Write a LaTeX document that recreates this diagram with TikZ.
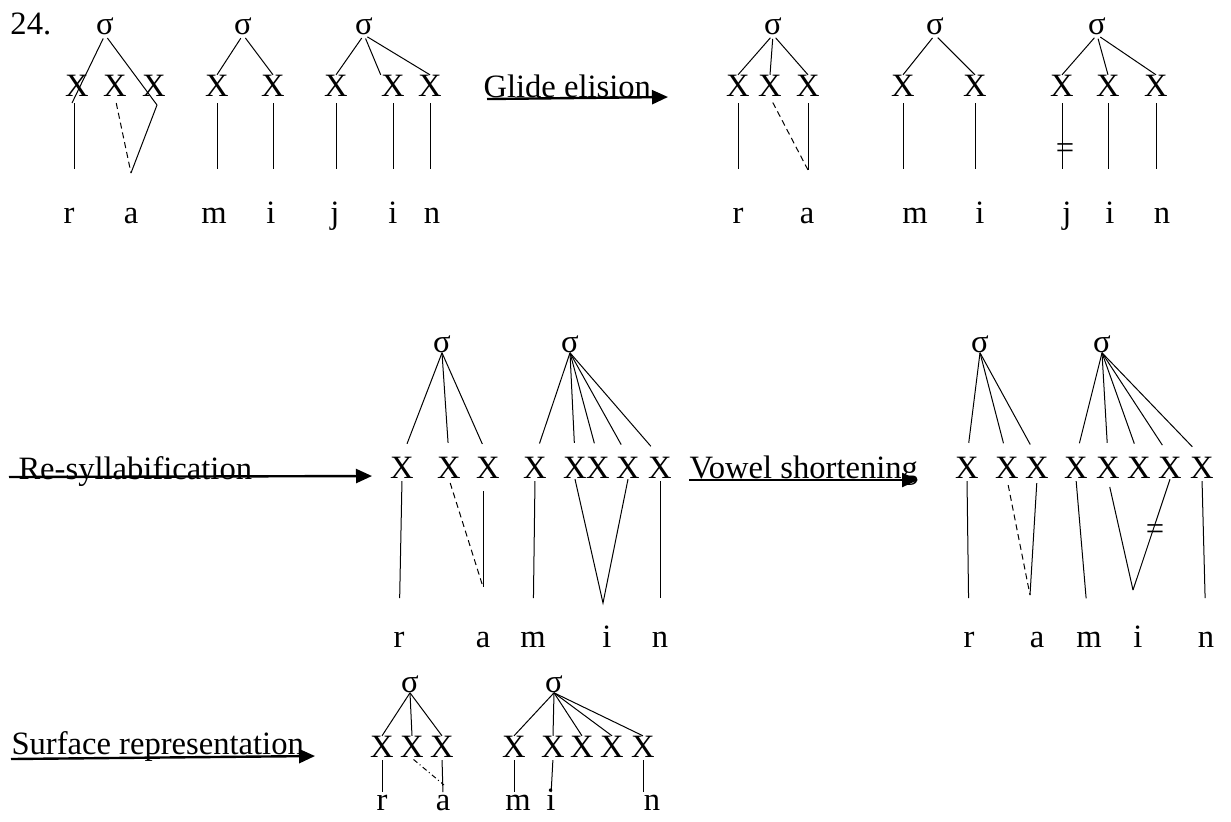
\documentclass[tikz,border=0pt]{standalone}
\usepackage{fontspec}
\setmainfont{Liberation Serif}
\usetikzlibrary{arrows.meta}

\begin{document}
\begin{tikzpicture}
    [x=0.5pt,y=-0.5pt,line width=0.5pt,font=\fontsize{16.3}{19}\selectfont,
     every node/.style={inner sep=0pt},
     seg/.style={text height=7.3pt,text depth=0pt},
     up1/.style={shorten <=2pt},
     up2/.style={shorten >=7pt},
     down1/.style={shorten <=3pt,shorten >=19.5pt},
     down2/.style={shorten <=1pt,shorten >=17pt},
     down3/.style={shorten <=1pt,shorten >=1.5pt},
     gap/.style={dash pattern=on 3pt off 2pt},
     gapdot/.style={dash pattern=on 2.5pt off 1.5pt on 0.5pt off 1.5pt},
     rule/.style={line width=1.2pt,-{Triangle[length=8pt,width=7pt]}}]
    \useasboundingbox (0,0) rectangle (1231,821);

    \node[anchor=base west] (num) at (10,34) {24.};

    % underlying form
    \node[seg] (s1) at (105,27) {σ};
    \node[seg] (s2) at (243,27) {σ};
    \node[seg] (s3) at (364,27) {σ};
    \node (x11) at (77,86) {X};
    \node (x12) at (115,86) {X};
    \node (x13) at (154,86) {X};
    \node (x21) at (217,86) {X};
    \node (x22) at (273,86) {X};
    \node (x31) at (336,86) {X};
    \node (x32) at (393,86) {X};
    \node (x33) at (430,86) {X};
    \node[seg] (r1) at (69,216) {r};
    \node[seg] (a1) at (131,216) {a};
    \node[seg] (m1) at (214,216) {m};
    \node[seg] (i1) at (271,216) {i};
    \node[seg] (j1) at (335,216) {j};
    \node[seg] (i2) at (393,216) {i};
    \node[seg] (n1) at (432,216) {n};
    \coordinate (k11) at (72,103);
    \coordinate (k12) at (157,105);
    \coordinate (k13) at (131,173);

    \path (s1.south) edge[up1] (k11) edge[up1] (k12);
    \draw (k12) -- (k13);
    \draw[gap,shorten <=3pt] (x12.south) -- (k13);
    \path ([xshift=-1.5pt]x11.south) edge[down1] ([xshift=-1.5pt]x11.south |- r1.north);
    \path (s2.south) edge[up1] (x21.north) edge[up1] (x22.north);
    \path (x21.south) edge[down1] (x21.south |- m1.north);
    \path (x22.south) edge[down1] (x22.south |- i1.north);
    \path (s3.south) edge[up1] (x31.north) edge[up1] (x32.north west) edge[up1] (x33.north);
    \path (x31.south) edge[down1] (x31.south |- j1.north);
    \path (x32.south) edge[down1] (x32.south |- i2.north);
    \path (x33.south) edge[down1] (x33.south |- n1.north);

    \node[anchor=base west] (glide) at (483,97) {Glide elision};
    \coordinate (glideend) at (668,97);
    \draw[rule] ([shift={(2pt,-1pt)}]glide.base west) -- (glideend);

    % after glide elision
    \node[seg] (s4) at (773,27) {σ};
    \node[seg] (s5) at (935,27) {σ};
    \node[seg] (s6) at (1097,27) {σ};
    \node (x41) at (738,86) {X};
    \node (x42) at (770,86) {X};
    \node (x43) at (808,86) {X};
    \node (x51) at (903,86) {X};
    \node (x52) at (975,86) {X};
    \node (x61) at (1062,86) {X};
    \node (x62) at (1108,86) {X};
    \node (x63) at (1156,86) {X};
    \node[seg] (r2) at (738,216) {r};
    \node[seg] (a2) at (807,216) {a};
    \node[seg] (m2) at (915,216) {m};
    \node[seg] (i3) at (980,216) {i};
    \node[seg] (j2) at (1067,216) {j};
    \node[seg] (i4) at (1110,216) {i};
    \node[seg] (n2) at (1162,216) {n};
    \node (eq1) at (1065,151) {=};
    \coordinate (k41) at (808,170);

    \path (s4.south) edge[up1] (x41.north) edge[up1] (x42.north) edge[up1] (x43.north);
    \path (x41.south) edge[down1] (x41.south |- r2.north);
    \draw[shorten <=3pt] (x43.south) -- (k41);
    \draw[gap,shorten <=3pt] (x42.south) -- (k41);
    \path (s5.south) edge[up1] (x51.north) edge[up1] (x52.north);
    \path (x51.south) edge[down1] (x51.south |- m2.north);
    \path (x52.south) edge[down1] (x52.south |- i3.north);
    \path (s6.south) edge[up1] (x61.north) edge[up1] (x62.north) edge[up1] (x63.north);
    \path (x61.south) edge[down1] (x61.south |- j2.north);
    \path (x62.south) edge[down1] (x62.south |- i4.north);
    \path (x63.south) edge[down1] (x63.south |- n2.north);

    % re-syllabification
    \node[anchor=base west] (resyl) at (18,479) {Re-syllabification};
    \coordinate (resylend) at (372,476);
    \draw[rule] ([shift={(-4.5pt,1pt)}]resyl.base west) -- (resylend);

    \node[seg] (sa) at (442,345) {σ};
    \node[seg] (sb) at (570,345) {σ};
    \node (xa1) at (402,468) {X};
    \node (xa2) at (449,468) {X};
    \node (xa3) at (488,468) {X};
    \node (xa4) at (535,468) {X};
    \node (xa5) at (575,468) {X};
    \node (xa6) at (598,468) {X};
    \node (xa7) at (628,468) {X};
    \node (xa8) at (660,468) {X};
    \node[seg] (ra) at (399,640) {r};
    \node[seg] (aa) at (483,640) {a};
    \node[seg] (ma) at (533,640) {m};
    \node[seg] (ia) at (607,640) {i};
    \node[seg] (na) at (660,640) {n};
    \coordinate (ka) at (483,587);
    \coordinate (ki) at (603,603);

    \path (sa.south) edge[up2] (xa1.north) edge[up2] (xa2.north) edge[up2] (xa3.north);
    \path (sb.south) edge[up2] (xa4.north) edge[up2] (xa5.north) edge[up2] (xa6.north)
                     edge[up2] (xa7.north) edge[up2] (xa8.north);
    \path (xa1.south) edge[down2] (ra.north);
    \draw[gap,shorten <=2pt] (xa2.south) -- (ka);
    \draw[shorten <=6pt] ([xshift=-2.5pt]xa3.south) -- (ka);
    \path (xa4.south) edge[down2] (ma.north);
    \draw (xa5.south) -- (ki) -- (xa7.south);
    \path (xa8.south) edge[down2] (na.north);

    % vowel shortening
    \node[anchor=base west] (vowel) at (689,478) {Vowel shortening};
    \coordinate (vowelend) at (918,480);
    \draw[rule] ([yshift=-1pt]vowel.base west) -- (vowelend);

    \node[seg] (sc) at (980,345) {σ};
    \node[seg] (sd) at (1102,345) {σ};
    \node (xb1) at (967,468) {X};
    \node (xb2) at (1007,468) {X};
    \node (xb3) at (1037,468) {X};
    \node (xb4) at (1076,468) {X};
    \node (xb5) at (1108,468) {X};
    \node (xb6) at (1139,468) {X};
    \node (xb7) at (1170,468) {X};
    \node (xb8) at (1202,468) {X};
    \node[seg] (rb) at (969,640) {r};
    \node[seg] (ab) at (1037,640) {a};
    \node[seg] (mb) at (1089,640) {m};
    \node[seg] (ib) at (1138,640) {i};
    \node[seg] (nb) at (1206,640) {n};
    \node (eq2) at (1155,532) {=};
    \coordinate (kb) at (1030,595);
    \coordinate (kc) at (1133,590);

    \path (sc.south) edge[up2] (xb1.north) edge[up2] (xb2.north) edge[up2] (xb3.north);
    \path (sd.south) edge[up2] (xb4.north) edge[up2] (xb5.north) edge[up2] (xb6.north)
                     edge[up2] (xb7.north) edge[up2] (xb8.north);
    \path (xb1.south) edge[down2] (rb.north);
    \draw[gap,shorten <=3pt] (xb2.south) -- (kb);
    \draw[shorten <=2pt] (xb3.south) -- (kb);
    \path (xb4.south) edge[down2] (mb.north);
    \draw[shorten <=4pt] (xb5.south) -- (kc);
    \draw (kc) -- (xb7.south);
    \path (xb8.south) edge[down2] (nb.north);

    % surface form
    \node[anchor=base west] (surf) at (11,754) {Surface representation};
    \coordinate (surfend) at (315,756);
    \draw[rule] ([yshift=-2.5pt]surf.base west) -- (surfend);

    \node[seg] (se) at (410,685) {σ};
    \node[seg] (sf) at (554,685) {σ};
    \node (xc1) at (382,747) {X};
    \node (xc2) at (412,747) {X};
    \node (xc3) at (442,747) {X};
    \node (xc4) at (514,747) {X};
    \node (xc5) at (553,747) {X};
    \node (xc6) at (582,747) {X};
    \node (xc7) at (612,747) {X};
    \node (xc8) at (643,747) {X};
    \node[seg] (rc) at (382,803) {r};
    \node[seg] (ac) at (443,803) {a};
    \node[seg] (mc) at (518,803) {m};
    \node[seg] (ic) at (551,803) {i};
    \node[seg] (nc) at (652,803) {n};
    \coordinate (kd) at (444,785);

    \path (se.south) edge (xc1.north) edge (xc2.north) edge (xc3.north);
    \path (sf.south) edge (xc4.north) edge (xc5.north) edge (xc6.north)
                     edge (xc7.north) edge (xc8.north);
    \path (xc1.south) edge[down3] (xc1.south |- rc.north);
    \draw[gapdot,shorten <=1pt] (xc2.south) -- (kd);
    \path (xc3.south) edge[down3] (ac.north);
    \path (xc4.south) edge[down3] (xc4.south |- mc.north);
    \path (xc5.south) edge[down3] (ic.north);
    \path (xc8.south) edge[down3] (xc8.south |- nc.north);

  \end{tikzpicture}
\end{document}
